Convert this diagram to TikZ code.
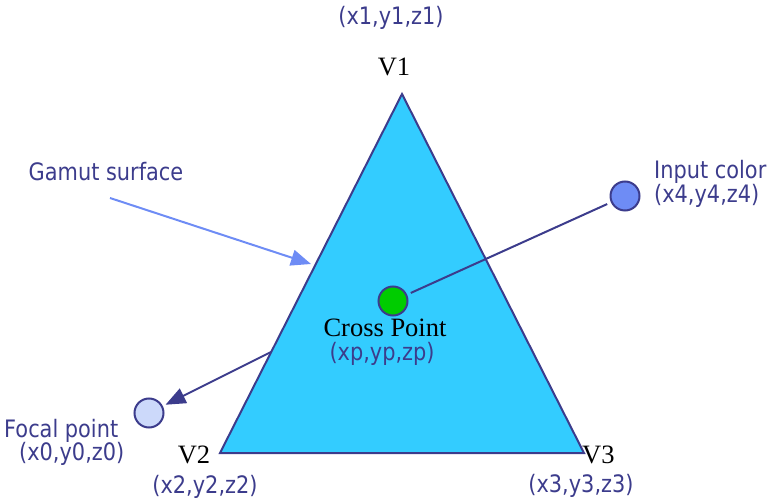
\documentclass[tikz,border=0pt]{standalone}
\usepackage{fontspec}
\setmainfont{Liberation Serif}
\newfontfamily\vfont[FakeStretch=0.87]{DejaVu Sans}
\usetikzlibrary{arrows.meta}
\definecolor{navy}{RGB}{60,60,140}
\definecolor{tri}{RGB}{51,204,255}
\definecolor{lblue}{RGB}{110,140,245}
\definecolor{pale}{RGB}{204,217,250}
\definecolor{grn}{RGB}{0,204,0}
\begin{document}
\begin{tikzpicture}[x=1pt,y=-1pt,
  lab/.style={inner sep=0pt, font=\vfont\fontsize{24}{26}\selectfont, text=navy},
  tight/.style={text height=16pt, text depth=4pt},
  vlab/.style={inner sep=0pt, font=\fontsize{26.5}{28}\selectfont, text=black},
  dot/.style={circle, draw=navy, line width=2pt, minimum size=29pt, inner sep=0pt},
  edge/.style={draw=navy, line width=2pt}]
\useasboundingbox (0,0) rectangle (771,502);
\coordinate (v1) at (402,94);
\coordinate (v2) at (220,453);
\coordinate (v3) at (584,453);
\filldraw[fill=tri, draw=navy, line width=2pt] (v1) -- (v2) -- (v3) -- cycle;
\node[dot, fill=grn] (cp) at (393,301) {};
\node[dot, fill=lblue] (ic) at (625,196) {};
\node[dot, fill=pale] (fp) at (149,413) {};
\draw[edge, shorten <=4pt, shorten >=4pt] (cp) -- (ic);
\coordinate (fa) at (271,352);
\draw[edge, -{Triangle[length=20pt,width=16pt]}, shorten >=3pt] (fa) -- (fp);
\coordinate (ga) at (110,198);
\coordinate (gb) at (311,264);
\draw[draw=lblue, line width=2pt, -{Triangle[length=20pt,width=16pt]}] (ga) -- (gb);
\node[lab] (t1) at (391,18) {(x1,y1,z1)};
\node[vlab] (lv1) at (394,67) {V1};
\node[lab] (gs) at (106,172) {Gamut surface};
\node[lab, tight, anchor=west] (icl) at (654,173) {Input color};
\node[lab, tight, anchor=west] (icc) at (654,197) {(x4,y4,z4)};
\node[vlab] (cpl) at (385,328) {Cross Point};
\node[lab] (cpc) at (382,354) {(xp,yp,zp)};
\node[lab, tight, anchor=west] (fpl) at (4,431.5) {Focal point};
\node[lab, tight, anchor=west] (fpc) at (19,454) {(x0,y0,z0)};
\node[vlab] (lv2) at (194,455) {V2};
\node[vlab, anchor=west] (lv3) at (582,455) {V3};
\node[lab] (c2) at (205,487) {(x2,y2,z2)};
\node[lab] (c3) at (581,486) {(x3,y3,z3)};
\end{tikzpicture}
\end{document}
